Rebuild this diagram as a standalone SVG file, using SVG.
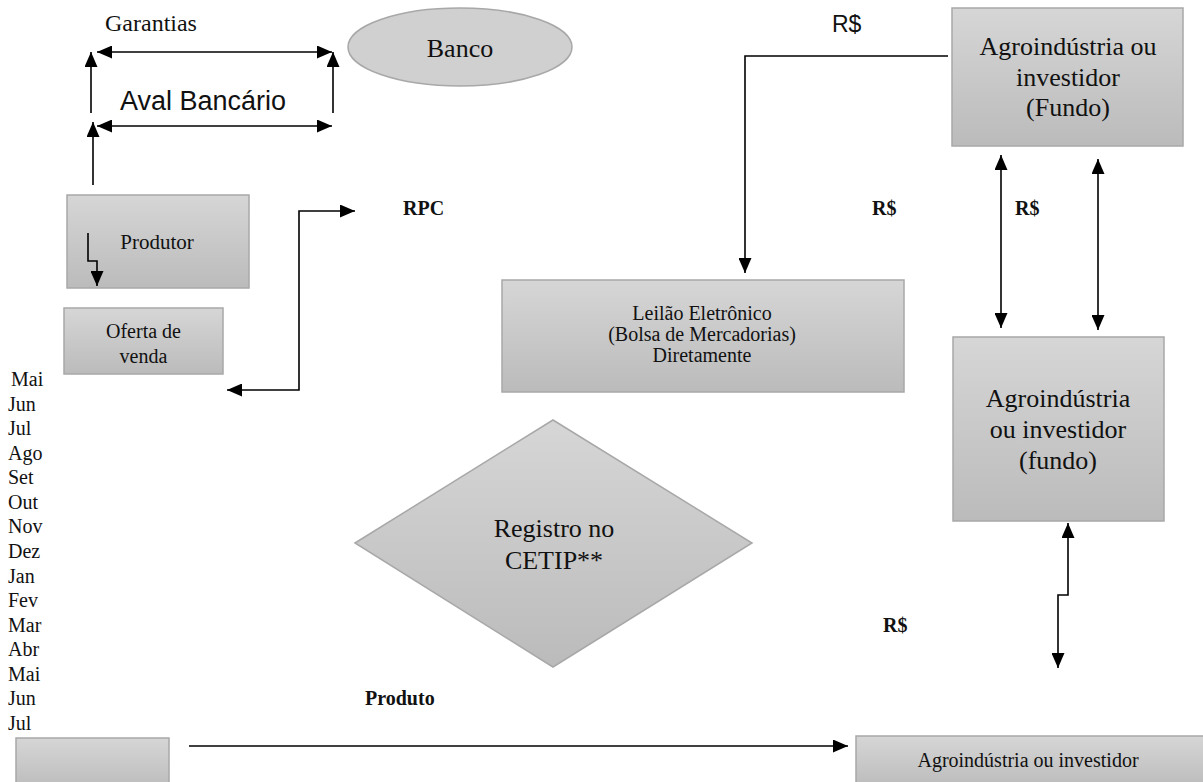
<svg xmlns="http://www.w3.org/2000/svg" width="1203" height="782" viewBox="0 0 1203 782">
<defs>
<linearGradient id="g" x1="0" y1="0" x2="0" y2="1">
<stop offset="0" stop-color="#d6d6d6"/>
<stop offset="1" stop-color="#bbbbbb"/>
</linearGradient>
<marker id="ah" viewBox="0 0 15 13" markerWidth="15" markerHeight="13" refX="15" refY="6.5" orient="auto-start-reverse" markerUnits="userSpaceOnUse">
<path d="M0,0 L15,6.5 L0,13 z" fill="#000"/>
</marker>
<style>
.box{fill:url(#g);stroke:#a8a8a8;stroke-width:1.5}
.t{font-family:"Liberation Serif","Times New Roman",serif;fill:#111}
.b{font-family:"Liberation Serif","Times New Roman",serif;font-weight:bold;fill:#111;font-size:20px}
.s{font-family:"Liberation Sans",Arial,sans-serif;fill:#111}
.c{stroke:#000;stroke-width:1.6;fill:none}
.a2{marker-start:url(#ah);marker-end:url(#ah)}
.a1{marker-end:url(#ah)}
</style>
</defs>
<rect width="1203" height="782" fill="#fff"/>

<g id="banco">
<ellipse cx="460" cy="47" rx="112" ry="39" fill="#d0d0d0" stroke="#a8a8a8" stroke-width="1.5"/>
<text class="t" x="460" y="57" font-size="26" text-anchor="middle">Banco</text>
</g>

<g id="produtor">
<rect class="box" x="67" y="195" width="182" height="93"/>
<text class="t" x="157" y="249" font-size="21" text-anchor="middle">Produtor</text>
</g>

<g id="oferta">
<rect class="box" x="64" y="308" width="159" height="66"/>
<text class="t" x="143.5" y="338" font-size="20" text-anchor="middle">Oferta de</text>
<text class="t" x="143.5" y="363" font-size="20" text-anchor="middle">venda</text>
</g>

<g id="agro-fundo-top">
<rect class="box" x="952" y="8" width="231" height="138"/>
<text class="t" x="1068" y="55" font-size="26" text-anchor="middle">Agroindústria ou</text>
<text class="t" x="1068" y="86" font-size="26" text-anchor="middle">investidor</text>
<text class="t" x="1068" y="116" font-size="26" text-anchor="middle">(Fundo)</text>
</g>

<g id="leilao">
<rect class="box" x="502" y="280" width="402" height="112"/>
<text class="t" x="702" y="320" font-size="20" text-anchor="middle">Leilão Eletrônico</text>
<text class="t" x="702" y="341" font-size="20" text-anchor="middle">(Bolsa de Mercadorias)</text>
<text class="t" x="702" y="362" font-size="20" text-anchor="middle">Diretamente</text>
</g>

<g id="agro-fundo-mid">
<rect class="box" x="953" y="337" width="211" height="184"/>
<text class="t" x="1058" y="407" font-size="26" text-anchor="middle">Agroindústria</text>
<text class="t" x="1058" y="438" font-size="26" text-anchor="middle">ou investidor</text>
<text class="t" x="1058" y="469" font-size="26" text-anchor="middle">(fundo)</text>
</g>

<g id="cetip">
<polygon points="355,543 553,420 752,543 553,667" fill="url(#g)" stroke="#a8a8a8" stroke-width="1.5"/>
<text class="t" x="554" y="537" font-size="26" text-anchor="middle">Registro no</text>
<text class="t" x="554" y="569" font-size="26" text-anchor="middle">CETIP**</text>
</g>

<g id="box-bottom-left">
<rect class="box" x="16" y="738" width="153" height="52"/>
</g>

<g id="agro-bottom">
<rect class="box" x="856" y="736" width="352" height="52"/>
<text class="t" x="1028" y="767" font-size="20" text-anchor="middle">Agroindústria ou investidor</text>
</g>

<g id="months" class="t" font-size="20">
<text x="11" y="386">Mai</text>
<text x="8" y="410.6">Jun</text>
<text x="8" y="435.1">Jul</text>
<text x="8" y="459.7">Ago</text>
<text x="8" y="484.3">Set</text>
<text x="8" y="508.9">Out</text>
<text x="8" y="533.4">Nov</text>
<text x="8" y="558">Dez</text>
<text x="8" y="582.6">Jan</text>
<text x="8" y="607.1">Fev</text>
<text x="8" y="631.7">Mar</text>
<text x="8" y="656.3">Abr</text>
<text x="8" y="680.9">Mai</text>
<text x="8" y="705.4">Jun</text>
<text x="8" y="730">Jul</text>
</g>

<g id="labels">
<text class="t" x="105" y="31" font-size="24">Garantias</text>
<text class="s" x="120" y="110" font-size="27">Aval Bancário</text>
<text class="s" x="832" y="32" font-size="23">R$</text>
<text class="b" x="403" y="215">RPC</text>
<text class="b" x="872" y="215">R$</text>
<text class="b" x="1015" y="215">R$</text>
<text class="b" x="883" y="632">R$</text>
<text class="b" x="365" y="705">Produto</text>
</g>

<g id="connectors">
<line class="c a2" x1="97" y1="52" x2="332" y2="52"/>
<line class="c a1" x1="91" y1="113" x2="91" y2="52"/>
<line class="c a1" x1="333" y1="113" x2="333" y2="52"/>
<line class="c a2" x1="97" y1="126" x2="332" y2="126"/>
<line class="c a1" x1="93" y1="185" x2="93" y2="122"/>
<path class="c a1" d="M88,233 V261 H97 V286"/>
<path class="c a2" d="M227,390 H299 V211 H355"/>
<path class="c a1" d="M948,56 H745 V273"/>
<line class="c a2" x1="1001" y1="155" x2="1001" y2="328"/>
<line class="c a2" x1="1098" y1="159" x2="1098" y2="330"/>
<path class="c a2" d="M1068,523 V595 H1058 V668"/>
<line class="c a1" x1="189" y1="746" x2="848" y2="746"/>
</g>
</svg>
